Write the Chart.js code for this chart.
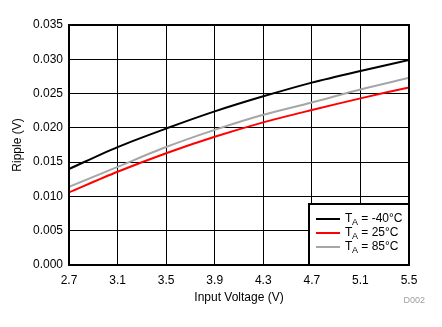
<!DOCTYPE html>
<html>
<head>
<meta charset="utf-8">
<script src="https://cdn.jsdelivr.net/npm/chart.js@4"></script>
<style>
  html, body { margin: 0; padding: 0; background: #ffffff; }
  #wrap { position: relative; width: 442px; height: 327px; }
</style>
</head>
<body>
<div id="wrap"><canvas id="rippleChart" width="442" height="327"></canvas></div>
<script>
// 輸入電壓 (V)
const voltage = [2.7, 3.1, 3.5, 3.9, 4.3, 4.7, 5.1, 5.5];
// 各溫度下的漣波 (V)
const ripple_m40 = [0.0140, 0.0172, 0.0199, 0.0224, 0.0246, 0.0266, 0.0283, 0.0299];
const ripple_25 = [0.0106, 0.0136, 0.0163, 0.0187, 0.0208, 0.0226, 0.0243, 0.0259];
const ripple_85 = [0.0114, 0.0143, 0.0172, 0.0197, 0.0219, 0.0237, 0.0256, 0.0273];
const xTicks = [2.7, 3.1, 3.5, 3.9, 4.3, 4.7, 5.1, 5.5];
const yTicks = [0, 0.005, 0.01, 0.015, 0.02, 0.025, 0.03, 0.035];
const seriesNames = ['-40°C', '25°C', '85°C'];

const FONT = 'Liberation Sans, Arial, sans-serif';

function toPoints(ys){
    return voltage.map((v, i) => ({x: v, y: ys[i]}));
}

// 外框 + 圖例(放在繪圖區右下角)
const framePlugin = {
    id: 'frame',
    afterDraw(chart){
        const ctx = chart.ctx;
        const a = chart.chartArea;
        ctx.save();
        ctx.strokeStyle = '#000000';
        ctx.lineWidth = 2;
        ctx.strokeRect(a.left, a.top, a.right - a.left, a.bottom - a.top);

        // legend box
        const w = 100, h = 61;
        const bx = a.right - w, by = a.bottom - h;
        ctx.fillStyle = '#ffffff';
        ctx.fillRect(bx, by, w, h);
        ctx.strokeRect(bx, by, w, h);

        chart.data.datasets.forEach((ds, i) => {
            const y = by + 15 + i * 14;
            ctx.strokeStyle = ds.borderColor;
            ctx.lineWidth = 2;
            ctx.beginPath();
            ctx.moveTo(bx + 7, y);
            ctx.lineTo(bx + 31, y);
            ctx.stroke();

            ctx.fillStyle = '#000000';
            ctx.textBaseline = 'middle';
            ctx.textAlign = 'left';
            ctx.font = '12px ' + FONT;
            ctx.fillText('T', bx + 36, y);
            ctx.font = '9px ' + FONT;
            ctx.fillText('A', bx + 43, y + 4);
            ctx.font = '12px ' + FONT;
            ctx.fillText(' = ' + seriesNames[i], bx + 49, y);
        });

        // 圖號
        ctx.fillStyle = '#a0a0a0';
        ctx.font = '9px ' + FONT;
        ctx.textAlign = 'right';
        ctx.textBaseline = 'middle';
        ctx.fillText('D002', 425, 301);
        ctx.restore();
    }
};

const ctx = document.getElementById('rippleChart').getContext('2d');

const LineChart = new Chart(ctx, {
    type: 'line',
    data: {
        datasets: [{
            label: 'TA = -40°C',
            data: toPoints(ripple_m40),
            borderColor: '#000000',
            borderWidth: 2,
            pointRadius: 0,
            tension: 0.3
        }, {
            label: 'TA = 25°C',
            data: toPoints(ripple_25),
            borderColor: '#ff0000',
            borderWidth: 2,
            pointRadius: 0,
            tension: 0.3
        }, {
            label: 'TA = 85°C',
            data: toPoints(ripple_85),
            borderColor: '#a6a6a6',
            borderWidth: 2,
            pointRadius: 0,
            tension: 0.3
        }]
    },
    options: {
        responsive: false,
        animation: false,
        layout: {
            padding: {left: 10, right: 33, top: 25, bottom: 22}
        },
        scales: {
            x: {
                type: 'linear',
                min: 2.7,
                max: 5.5,
                afterBuildTicks: (axis) => {
                    axis.ticks = xTicks.map(v => ({value: v}));
                },
                afterFit: (axis) => { axis.height = 40; },
                ticks: {
                    callback: (v) => Number(v).toFixed(1),
                    color: '#000000',
                    font: {family: FONT, size: 12},
                    padding: 8,
                    maxRotation: 0
                },
                grid: {
                    color: '#000000',
                    lineWidth: 1,
                    drawTicks: false
                },
                border: {display: false},
                title: {
                    display: true,
                    text: 'Input Voltage (V)',
                    color: '#000000',
                    font: {family: FONT, size: 12},
                    padding: {top: 0, bottom: 0}
                }
            },
            y: {
                min: 0,
                max: 0.035,
                afterBuildTicks: (axis) => {
                    axis.ticks = yTicks.map(v => ({value: v}));
                },
                afterFit: (axis) => { axis.width = 59; },
                ticks: {
                    callback: (v) => Number(v).toFixed(3),
                    color: '#000000',
                    font: {family: FONT, size: 12},
                    padding: 6
                },
                grid: {
                    color: '#000000',
                    lineWidth: 1,
                    drawTicks: false
                },
                border: {display: false},
                title: {
                    display: true,
                    text: 'Ripple (V)',
                    color: '#000000',
                    font: {family: FONT, size: 12},
                    padding: {top: 0, bottom: 2}
                }
            }
        },
        plugins: {
            legend: {display: false},
            tooltip: {enabled: false}
        }
    },
    plugins: [framePlugin]
});
</script>
</body>
</html>
